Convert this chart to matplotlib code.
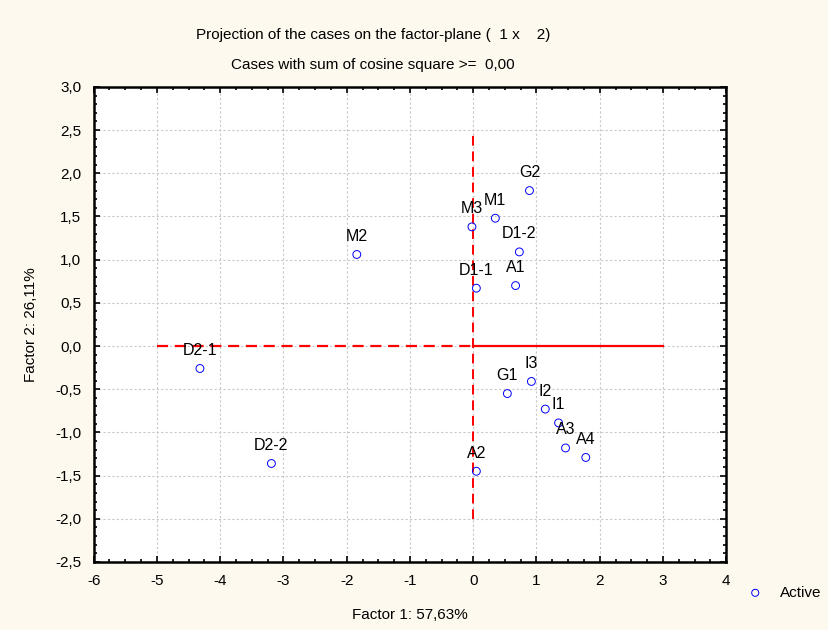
import matplotlib.pyplot as plt
from matplotlib.ticker import MultipleLocator, FuncFormatter

# coordenadas dos casos no plano fatorial (1 x 2)
labels = ['G2', 'M1', 'M3', 'D1-2', 'D1-1', 'A1', 'M2', 'D2-1', 'D2-2',
          'G1', 'I3', 'I2', 'I1', 'A3', 'A4', 'A2']
fator1 = [0.89, 0.35, -0.02, 0.73, 0.05, 0.67, -1.84, -4.32, -3.19,
          0.54, 0.92, 1.14, 1.35, 1.46, 1.78, 0.05]
fator2 = [1.80, 1.48, 1.38, 1.09, 0.67, 0.70, 1.06, -0.26, -1.36,
          -0.55, -0.41, -0.73, -0.89, -1.18, -1.29, -1.45]

plt.rcParams['font.family'] = ['Liberation Sans', 'DejaVu Sans']
fundo = '#fef9ee'

fig = plt.figure(figsize=(8.29, 6.30), dpi=100, facecolor=fundo)
ax = fig.add_axes([0.113, 0.108, 0.763, 0.754])

# linhas de referência
ax.plot([-5, 0], [0, 0], color='red', lw=1.6, ls=(0, (5, 3)), zorder=2)
ax.plot([0, 3], [0, 0], color='red', lw=1.6, zorder=2)
ax.plot([0, 0], [-2, 2.5], color='red', lw=1.4, ls=(0, (5, 3)), zorder=2)

ax.scatter(fator1, fator2, s=32, facecolors='none', edgecolors='blue',
           linewidths=0.7, zorder=3, label='Active')
for lb, x, y in zip(labels, fator1, fator2):
    ax.annotate(lb, (x, y), xytext=(0, 13), textcoords='offset points',
                ha='center', va='center', fontsize=11.5, zorder=4)

ax.set_xlim(-6, 4)
ax.set_ylim(-2.5, 3.0)
ax.xaxis.set_major_locator(MultipleLocator(1))
ax.xaxis.set_minor_locator(MultipleLocator(0.25))
ax.yaxis.set_major_locator(MultipleLocator(0.5))
ax.yaxis.set_minor_locator(MultipleLocator(0.1))
ax.yaxis.set_major_formatter(FuncFormatter(lambda v, p: f'{v:.1f}'.replace('.', ',')))
ax.xaxis.set_major_formatter(FuncFormatter(lambda v, p: f'{v:.0f}'))
ax.tick_params(which='both', direction='in', top=True, right=True,
               labelsize=11, width=1.2)
ax.tick_params(which='major', length=4, pad=9)
ax.tick_params(which='minor', length=2.5)
ax.grid(True, which='major', color='#c8c8c8', ls=(0, (2, 2)), lw=0.8)
ax.set_axisbelow(True)
for s in ax.spines.values():
    s.set_linewidth(1.8)

ax.set_xlabel('Factor 1: 57,63%', fontsize=11, labelpad=14)
ax.set_ylabel('Factor 2: 26,11%', fontsize=11, labelpad=12)
fig.text(0.45, 0.944, 'Projection of the cases on the factor-plane (  1 x    2)',
         ha='center', va='center', fontsize=11)
fig.text(0.45, 0.897, 'Cases with sum of cosine square >=  0,00',
         ha='center', va='center', fontsize=11)

ax.legend(loc='center left', bbox_to_anchor=(1.0, -0.065), frameon=False,
          fontsize=11, handletextpad=0.6, markerscale=0.9)

fig.savefig('out.png', dpi=100, facecolor=fundo)
